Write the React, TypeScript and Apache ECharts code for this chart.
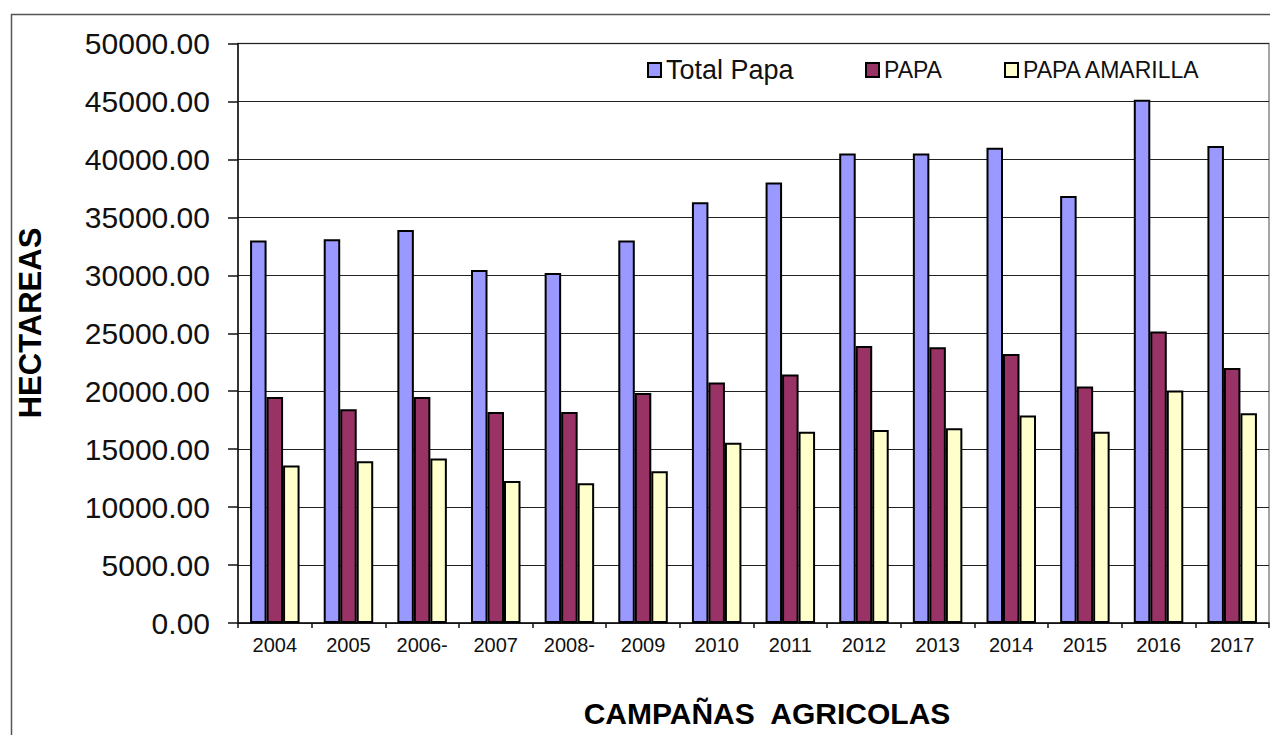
import React, { useEffect, useRef } from "react";
import * as echarts from "echarts";

const categories = ["2004", "2005", "2006-", "2007", "2008-", "2009", "2010", "2011", "2012", "2013", "2014", "2015", "2016", "2017"];
const totalPapa = [33000, 33100, 33900, 30450, 30200, 33000, 36300, 38000, 40500, 40500, 41000, 36850, 45150, 41150];
const papa = [19500, 18450, 19500, 18200, 18200, 19850, 20750, 21450, 23900, 23800, 23200, 20400, 25150, 22000];
const papaAmarilla = [13600, 13950, 14200, 12250, 12050, 13100, 15550, 16500, 16650, 16800, 17900, 16500, 20050, 18100];
const seriesNames = ["Total Papa", "PAPA", "PAPA AMARILLA"];
const seriesColors = ["#9999FF", "#993366", "#FFFFCC"];

const FONT = "'Liberation Sans', Arial, sans-serif";

export default function App() {
  const ref = useRef<HTMLDivElement>(null);
  useEffect(() => {
    if (!ref.current) return;
    const chart = echarts.init(ref.current, null, { renderer: "svg" });
    const datasets = [totalPapa, papa, papaAmarilla];
    const legendPos = [
      { left: 642, size: 27 },
      { left: 860, size: 23 },
      { left: 999, size: 23 },
    ];
    chart.setOption({
      animation: false,
      backgroundColor: "#fff",
      textStyle: { fontFamily: FONT },
      grid: {
        left: 238,
        right: 1,
        top: 43.5,
        bottom: 112,
        show: true,
        borderColor: "#888",
        borderWidth: 1.5,
        backgroundColor: "transparent",
      },
      legend: seriesNames.map((n, i) => ({
        data: [n],
        left: legendPos[i].left,
        top: 70 - 5 - legendPos[i].size / 2,
        itemWidth: 13,
        itemHeight: 14,
        icon: "rect",
        textStyle: {
          fontFamily: FONT,
          fontSize: legendPos[i].size,
          color: "#111",
        },
      })),
      xAxis: {
        type: "category",
        data: categories,
        axisLine: { lineStyle: { color: "#111", width: 1.5 } },
        axisTick: { show: true, length: 5, lineStyle: { color: "#111", width: 1.5 } },
        axisLabel: { fontFamily: FONT, fontSize: 20, color: "#111", margin: 12 },
      },
      yAxis: {
        type: "value",
        min: 0,
        max: 50000,
        interval: 5000,
        axisLine: { show: true, lineStyle: { color: "#111", width: 1.5 } },
        axisTick: { show: true, length: 10, lineStyle: { color: "#111", width: 1.5 } },
        axisLabel: {
          fontFamily: FONT,
          fontSize: 30,
          color: "#111",
          margin: 28,
          formatter: (v: number) => v.toFixed(2),
        },
        splitLine: { show: true, lineStyle: { color: "#222", width: 1 } },
      },
      series: seriesNames.map((n, i) => ({
        name: n,
        type: "bar",
        data: datasets[i],
        barWidth: 16.5,
        barGap: "0%",
        itemStyle: { color: seriesColors[i], borderColor: "#000", borderWidth: 2 },
      })),
      graphic: [
        {
          type: "rect",
          left: 9,
          top: 12,
          shape: { width: 1400, height: 900 },
          style: { fill: "none", stroke: "#555", lineWidth: 1.5 },
          silent: true,
          z: -10,
        },
        {
          type: "text",
          x: 767,
          y: 713,
          style: {
            text: "CAMPAÑAS  AGRICOLAS",
            fontFamily: FONT,
            fontSize: 30,
            fontWeight: "bold",
            fill: "#000",
            align: "center",
            verticalAlign: "middle",
          },
        },
        {
          type: "text",
          x: 30,
          y: 323,
          rotation: Math.PI / 2,
          style: {
            text: "HECTAREAS",
            fontFamily: FONT,
            fontSize: 31,
            fontWeight: "bold",
            fill: "#000",
            align: "center",
            verticalAlign: "middle",
          },
        },
      ],
    });
    return () => chart.dispose();
  }, []);
  return (
    <div
      ref={ref}
      style={{ position: "fixed", left: 0, top: 0, width: 1270, height: 735, background: "#fff" }}
    />
  );
}
